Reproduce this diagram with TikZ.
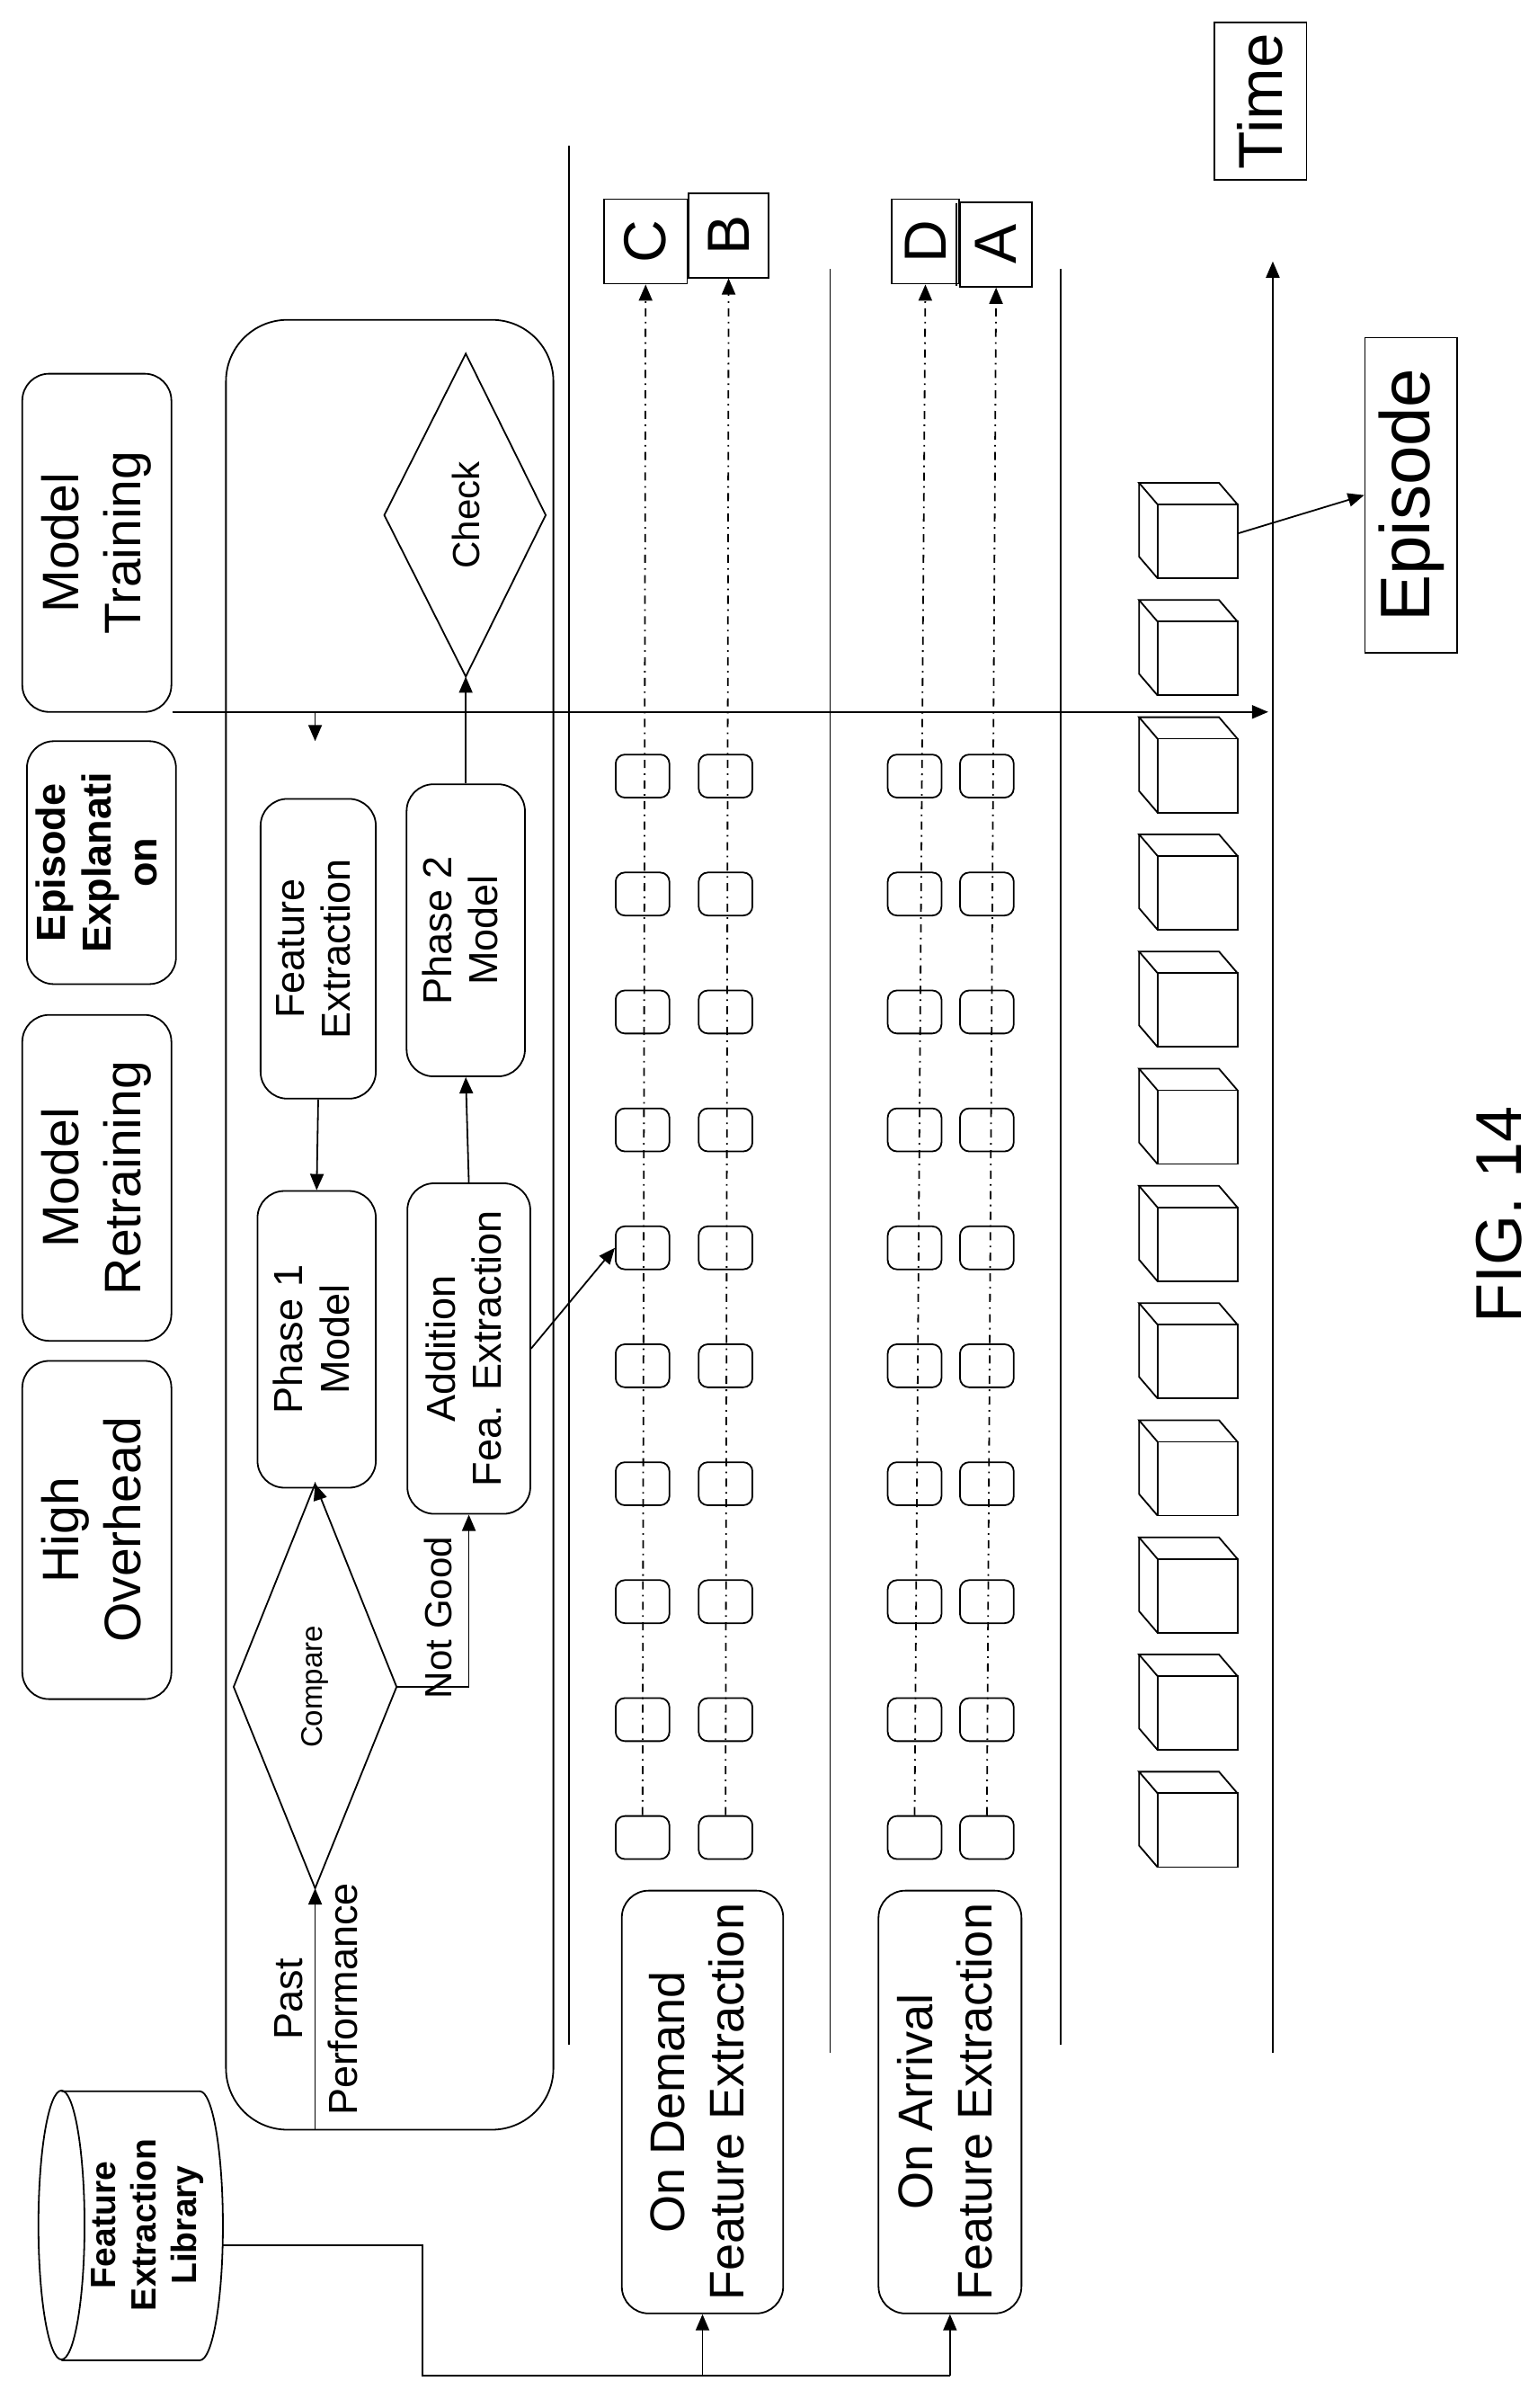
\documentclass[tikz,border=0pt]{standalone}
\usepackage{fontspec}
\setmainfont{Liberation Sans}
\usetikzlibrary{arrows.meta}
\newcommand{\rt}[1]{\rotatebox{90}{\begin{tabular}{@{}c@{}}#1\end{tabular}}}
\tikzset{
  box/.style={draw, rounded corners=0.35cm, inner sep=0pt, align=center},
  sbox/.style={draw, rounded corners=0.12cm, minimum width=0.7cm, minimum height=0.56cm},
  lbox/.style={draw, inner sep=0pt, font=\fontsize{22}{24}\selectfont},
  arr/.style={-{Triangle[length=6pt,width=5pt]}},
  big/.style={font=\fontsize{19}{23}\selectfont},
  mid/.style={font=\fontsize{15}{17}\selectfont},
}
\begin{document}
\begin{tikzpicture}[x=0.02cm, y=-0.02cm, line width=0.6pt]
    \useasboundingbox (0,0) rectangle (1000,1566);

    % TOP BOXES
    \node[box, big, minimum width=1.94cm, minimum height=4.4cm] (mtrain) at (63,353) {\rt{Model\\Training}};
    \node[box, font=\bfseries\fontsize{15}{17}\selectfont, minimum width=1.94cm, minimum height=3.16cm] (epexp) at (66,561) {\rt{Episode\\Explanati\\on}};
    \node[box, big, minimum width=1.94cm, minimum height=4.24cm] (mretrain) at (63,766) {\rt{Model\\Retraining}};
    \node[box, big, minimum width=1.94cm, minimum height=4.4cm] (highov) at (63,995) {\rt{High\\Overhead}};

    % LIBRARY
    \draw (40,1447) ellipse (0.3cm and 1.75cm);
    \draw (40,1360) -- (130,1360) arc[start angle=90, end angle=-90, x radius=0.3cm, y radius=1.75cm] -- (40,1535);
    \node[font=\bfseries\fontsize{13}{15}\selectfont] (lib) at (96,1447) {\rt{Feature\\Extraction\\Library}};
    \coordinate (libe) at (145,1460);

    % PANEL
    \draw[rounded corners=0.8cm] (147,208) rectangle (360,1385);
    \node[box, mid, minimum width=1.54cm, minimum height=3.86cm] (ph1) at (206,871) {\rt{Phase 1\\Model}};
    \node[box, mid, minimum width=1.5cm, minimum height=3.9cm] (fext) at (207,617) {\rt{Feature\\Extraction}};
    \node[box, mid, minimum width=1.6cm, minimum height=4.3cm] (addx) at (305,877) {\rt{Addition\\Fea. Extraction}};
    \node[box, mid, minimum width=1.54cm, minimum height=3.8cm] (ph2) at (303,605) {\rt{Phase 2\\Model}};

    \coordinate (cmpt) at (205,965); \coordinate (cmpr) at (258,1097);
    \coordinate (cmpb) at (205,1228); \coordinate (cmpl) at (152,1097);
    \draw (cmpl) -- (cmpt) -- (cmpr) -- (cmpb) -- cycle;
    \node[font=\fontsize{11}{13}\selectfont] (cmp) at (205,1097) {\rotatebox{90}{Compare}};
    \coordinate (chkt) at (303,230); \coordinate (chkr) at (355,335);
    \coordinate (chkb) at (303,440); \coordinate (chkl) at (250,335);
    \draw (chkl) -- (chkt) -- (chkr) -- (chkb) -- cycle;
    \node[font=\fontsize{14}{16}\selectfont] (chk) at (303,335) {\rotatebox{90}{Check}};

    \coordinate (past) at (205,1385);
    \draw[arr] (past) -- (cmpb);
    \node[mid, left=1pt] at (205,1300) {\rotatebox{90}{Past}};
    \node[mid, right=1pt] at (205,1300) {\rotatebox{90}{Performance}};
    \draw[arr] (ph1.south) -- (cmpt);
    \draw[arr] (fext.south) -- (ph1.north);
    \coordinate (fin) at (205,463); \coordinate (fin2) at (205,482);
    \draw[arr] (fin) -- (fin2);
    \draw[arr] (cmpr) -| (addx.south);
    \node[font=\fontsize{14}{16}\selectfont] at (285,1052) {\rotatebox{90}{Not Good}};
    \draw[arr] (addx.north) -- (ph2.south);
    \draw[arr] (ph2.north) -- (chkb);

    % LINES
    \coordinate (tl) at (112,463); \coordinate (tr) at (825,463);
    \draw[arr] (tl) -- (tr);
    \draw (370,95) -- (370,1330);
    \draw (540,175) -- (540,1335);
    \draw (690,175) -- (690,1330);
    \coordinate (ta) at (828,1335); \coordinate (tb) at (828,170);
    \draw[arr] (ta) -- (tb);

    % LETTER BOXES
    \node[lbox, minimum width=1.08cm, minimum height=1.1cm] (C) at (420,157) {\rotatebox{90}{C}};
    \node[lbox, minimum width=1.04cm, minimum height=1.1cm] (B) at (474,153) {\rotatebox{90}{B}};
    \node[lbox, minimum width=0.88cm, minimum height=1.1cm] (D) at (602,157) {\rotatebox{90}{D}};
    \node[lbox, minimum width=0.94cm, minimum height=1.1cm] (A) at (648,159) {\rotatebox{90}{A}};
    \draw (622,132) -- (622,186);

    % FEATURE ROWS
    \foreach \r/\x/\t in {1/418/C, 2/472/B, 3/595/D, 4/642/A} {
        \foreach \i in {0,...,9}
            \node[sbox] (r\r-\i) at (\x,1195-76.7*\i) {};
        \draw[arr, dashdotted] (r\r-0.north) -- (\t.south);
    }
    \draw[arr] (addx.east) -- (r1-5.west);

    % EXTRACTION BOXES
    \node[box, font=\fontsize{18}{22}\selectfont, minimum width=2.1cm, minimum height=5.5cm] (odfe) at (457,1367) {\rt{On Demand\\Feature Extraction}};
    \node[box, font=\fontsize{18}{22}\selectfont, minimum width=1.86cm, minimum height=5.5cm] (oafe) at (618,1367) {\rt{On Arrival\\Feature Extraction}};
    \coordinate (lb1) at (275,1545);
    \draw (libe) -| (lb1) -- (oafe.south |- lb1);
    \draw[arr] (odfe.south |- lb1) -- (odfe.south);
    \draw[arr] (oafe.south |- lb1) -- (oafe.south);

    % EPISODES
    \foreach \i in {0,...,11} {
        \pgfmathsetmacro{\c}{350+76.2*\i}
        \draw (753,\c-22) rectangle (805,\c+26);
        \draw (753,\c-22) -- (741,\c-36) -- (793,\c-36) -- (805,\c-22);
        \draw (741,\c-36) -- (741,\c+12) -- (753,\c+26);
    }
    \coordinate (cube) at (805,347);
    \node[draw, inner sep=0pt, font=\fontsize{26}{28}\selectfont, minimum width=1.2cm, minimum height=4.1cm] (ep) at (918,322) {\rotatebox{90}{Episode}};
    \draw[arr] (cube) -- (ep.west);
    \node[draw, inner sep=4pt, font=\fontsize{23}{25}\selectfont, minimum width=1.2cm, minimum height=2cm] (time) at (820,66) {\rotatebox{90}{Time}};

    \node[font=\fontsize{24}{26}\selectfont] (fig) at (975,790) {\rotatebox{90}{FIG. 14}};
\end{tikzpicture}
\end{document}
